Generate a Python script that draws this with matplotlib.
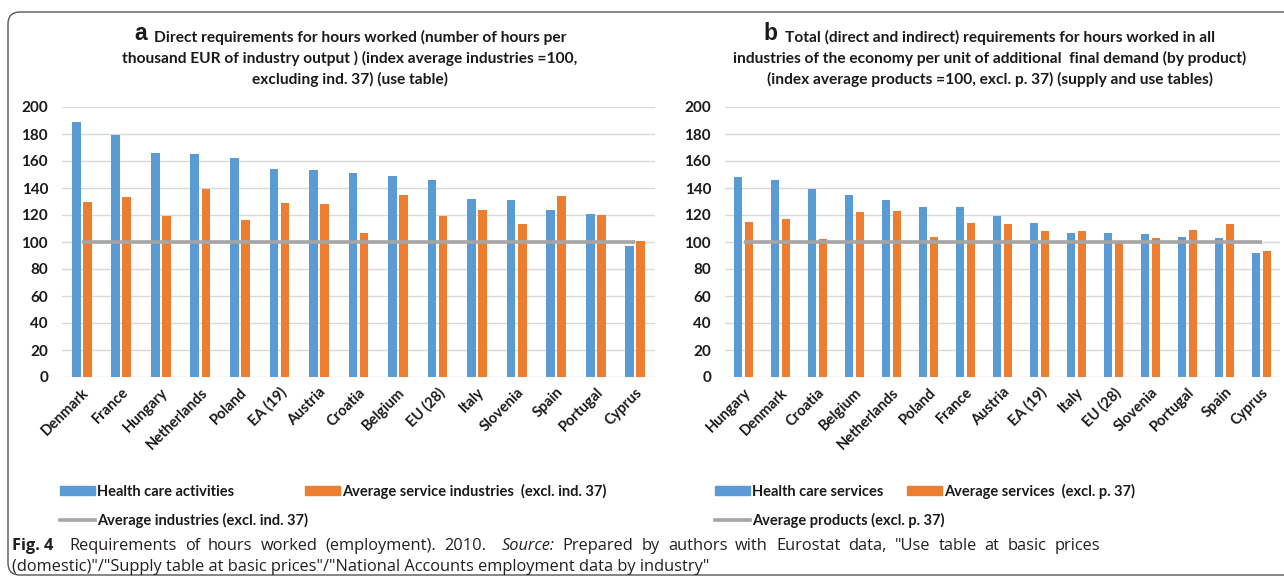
import numpy as np
import matplotlib
matplotlib.use("Agg")
import matplotlib.pyplot as plt
from matplotlib.patches import Patch, FancyBboxPatch
from matplotlib.lines import Line2D

# panel a: direct requirements
countries_a = ["Denmark", "France", "Hungary", "Netherlands", "Poland", "EA (19)", "Austria",
               "Croatia", "Belgium", "EU (28)", "Italy", "Slovenia", "Spain", "Portugal", "Cyprus"]
health_a = [189, 179, 166, 165, 162, 154, 153, 151, 149, 146, 132, 131, 124, 121, 97]
services_a = [130, 133, 119, 139, 116, 129, 128, 107, 135, 119, 124, 113, 134, 120, 101]
avg_a = [100] * len(countries_a)

# panel b: total (direct and indirect) requirements
countries_b = ["Hungary", "Denmark", "Croatia", "Belgium", "Netherlands", "Poland", "France",
               "Austria", "EA (19)", "Italy", "EU (28)", "Slovenia", "Portugal", "Spain", "Cyprus"]
health_b = [148, 146, 139, 135, 131, 126, 126, 119, 114, 107, 107, 106, 104, 103, 92]
services_b = [115, 117, 102, 122, 123, 104, 114, 113, 108, 108, 99, 103, 109, 113, 93]
avg_b = [100] * len(countries_b)

yticks = list(range(0, 201, 20))

BLUE = "#5B9BD5"
ORANGE = "#ED7D31"
GREY = "#A5A5A5"
TXT = "#1a1a1a"
FONT = ["Lato", "DejaVu Sans"]
CAP = ["Open Sans", "DejaVu Sans"]

W, H = 1284, 580
fig = plt.figure(figsize=(W / 100, H / 100), dpi=100)


def px(x0, y_top, x1, y_bot):
    return [x0 / W, 1 - y_bot / H, (x1 - x0) / W, (y_bot - y_top) / H]


def panel(rect, cats, health, serv, avg, offs, bw):
    ax = fig.add_axes(rect)
    x = np.arange(len(cats))
    ax.bar(x - offs, health, bw, color=BLUE, zorder=2)
    ax.bar(x + offs, serv, bw, color=ORANGE, zorder=2)
    ax.plot(x, avg, color=GREY, lw=2.6, zorder=3, solid_capstyle="butt")
    ax.set_xlim(-0.5, len(cats) - 0.5)
    ax.set_ylim(0, 200)
    ax.set_yticks(yticks)
    ax.yaxis.grid(True, color="#d9d9d9", lw=1.0, zorder=0)
    ax.set_axisbelow(True)
    for s in ax.spines.values():
        s.set_visible(False)
    ax.tick_params(axis="both", length=0, colors=TXT)
    ax.tick_params(axis="y", pad=10)
    ax.tick_params(axis="x", pad=6)
    ax.set_xticks(x)
    ax.set_xticklabels(cats, rotation=45, ha="right", rotation_mode="anchor",
                       fontsize=10.5, fontweight="bold", family=FONT)
    for lab in ax.get_yticklabels():
        lab.set_fontsize(11)
        lab.set_fontweight("bold")
        lab.set_family(FONT)
    return ax


ax_a = panel(px(62, 107, 655, 377), countries_a, health_a, services_a, avg_a, 0.14, 0.22)
ax_b = panel(px(725, 107, 1280, 377), countries_b, health_b, services_b, avg_b, 0.15, 0.22)


def title(xc, lines, letter, x1_off):
    ys = [37, 58, 79]
    t1 = fig.text((xc + x1_off) / W, 1 - ys[0] / H, lines[0], ha="center", va="center",
                  fontsize=11.2, fontweight="bold", family=FONT, color=TXT)
    for y, s in zip(ys[1:], lines[1:]):
        fig.text(xc / W, 1 - y / H, s, ha="center", va="center",
                 fontsize=11.2, fontweight="bold", family=FONT, color=TXT)
    ax_a.annotate(letter, xy=(0, 0), xycoords=t1, xytext=(-7, 0), textcoords="offset pixels",
                  ha="right", va="bottom", fontsize=16.5, fontweight="bold",
                  family="Liberation Sans", color=TXT, annotation_clip=False)


title(350, ["Direct requirements for hours worked (number of hours per",
            "thousand EUR of industry output ) (index average industries =100,",
            "excluding ind. 37) (use table)"], "a", 10)
title(990, ["Total (direct and indirect) requirements for hours worked in all",
            "industries of the economy per unit of additional  final demand (by product)",
            "(index average products =100, excl. p. 37) (supply and use tables)"], "b", 10)


def legend(x0, colspace, lab_h, lab_s, lab_l):
    kw = dict(frameon=False, handlelength=2.4, handleheight=0.6,
              handletextpad=0.12, borderpad=0, borderaxespad=0, loc="center left",
              prop=dict(family=FONT, weight="bold", size=10.5))
    lg1 = fig.legend(handles=[Patch(color=BLUE, label=lab_h), Patch(color=ORANGE, label=lab_s)],
                     ncol=2, columnspacing=colspace, bbox_to_anchor=(x0 / W, 1 - 491 / H), **kw)
    lg2 = fig.legend(handles=[Line2D([], [], color=GREY, lw=2.6, label=lab_l)],
                     bbox_to_anchor=(x0 / W, 1 - 520 / H), **kw)
    for lg in (lg1, lg2):
        for t in lg.get_texts():
            t.set_color(TXT)


legend(60, 4.9, "Health care activities", "Average service industries  (excl. ind. 37)",
       "Average industries (excl. ind. 37)")
legend(715, 1.65, "Health care services", "Average services  (excl. p. 37)",
       "Average products (excl. p. 37)")

# caption, first line justified like the typeset page
cap_size = 11.8
words = [("Fig. 4", "normal", "bold", 2)]
words += [(w, "normal", "normal", 1) for w in
          "Requirements of hours worked (employment).".split()]
words += [("2010.", "normal", "normal", 2), ("Source:", "italic", "normal", 1)]
words += [(w, "normal", "normal", 1) for w in
          "Prepared by authors with Eurostat data, \"Use table at basic prices".split()]

renderer = fig.canvas.get_renderer()
arts = []
for w, st, wt, _ in words:
    t = fig.text(0, 1 - 546 / H, w, fontsize=cap_size, style=st, fontweight=wt, family=CAP,
                 color="#231f20", va="center", ha="left")
    arts.append(t)
widths = [a.get_window_extent(renderer).width for a in arts]
x_start, x_end = 12, 1100
units = sum(g for _, _, _, g in words[:-1])
gap = (x_end - x_start - sum(widths)) / units
xpos = x_start
for a, wd, (_, _, _, g) in zip(arts, widths, words):
    a.set_x(xpos / W)
    xpos += wd + gap * g

fig.text(12 / W, 1 - 567 / H,
         "(domestic)\"/\"Supply table at basic prices\"/\"National Accounts employment data by industry\"",
         fontsize=cap_size, family=CAP, color="#231f20", va="center", ha="left")

# frame
frame = FancyBboxPatch((0.08, 0.05), 12.9, 5.63, boxstyle="round,pad=0,rounding_size=0.12",
                       transform=fig.dpi_scale_trans, fill=False, ec="#555555", lw=1.0,
                       clip_on=False)
fig.patches.append(frame)

fig.savefig("out.png", dpi=100)
